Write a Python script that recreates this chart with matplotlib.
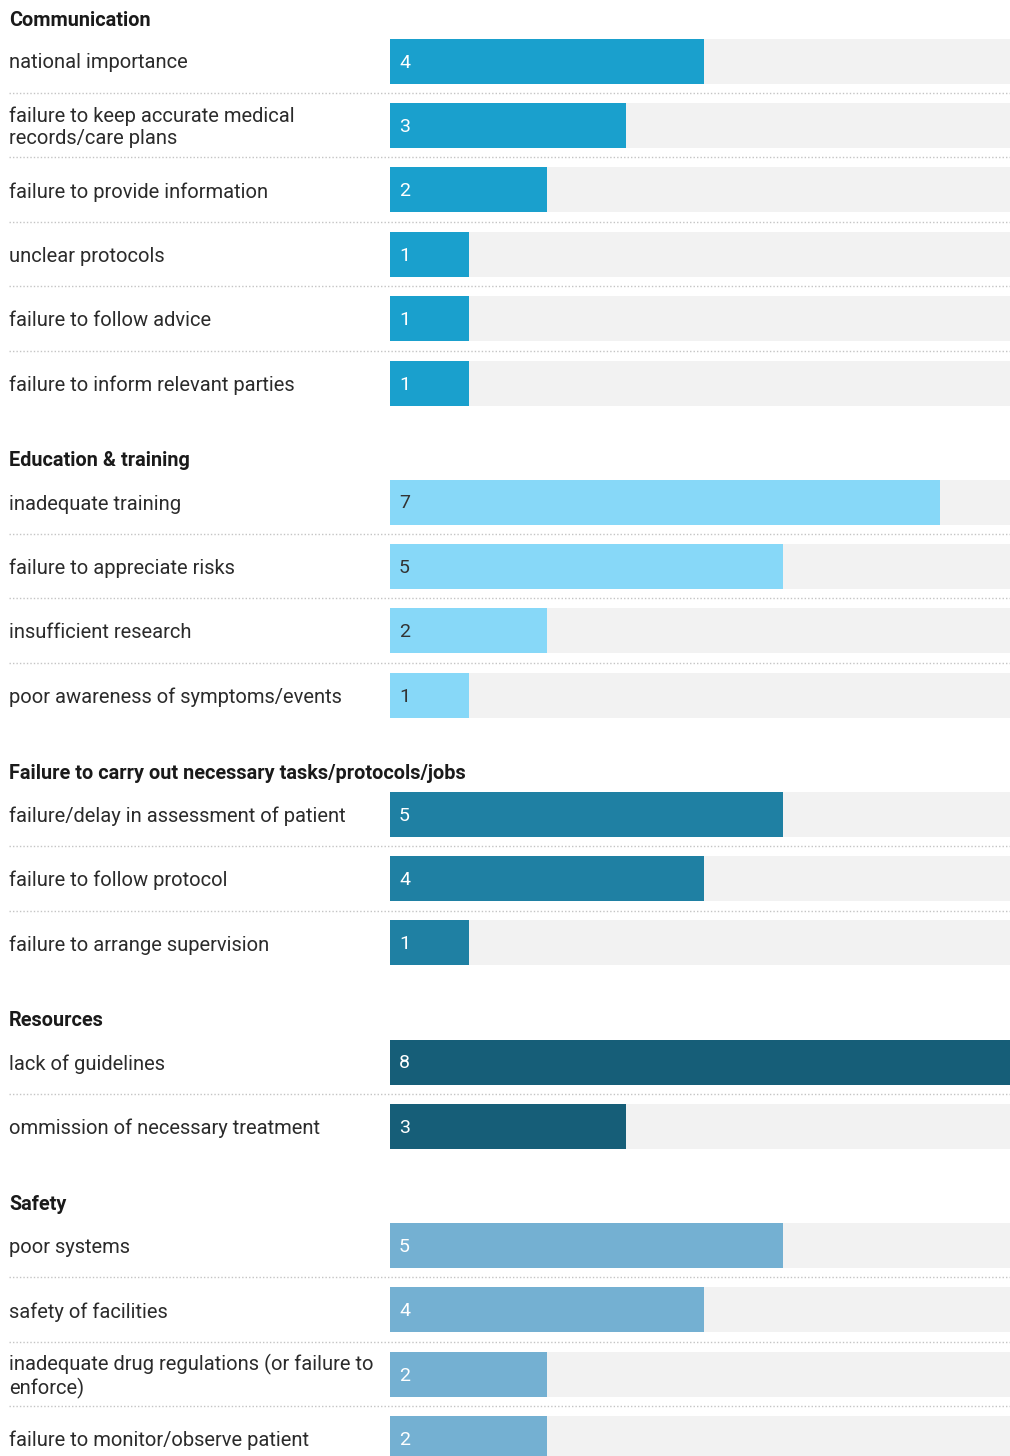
import matplotlib
matplotlib.use("Agg")
import matplotlib.pyplot as plt

groups = ["Communication", "Education & training",
          "Failure to carry out necessary tasks/protocols/jobs", "Resources", "Safety"]
labels = [
    ["national importance", "failure to keep accurate medical\nrecords/care plans",
     "failure to provide information", "unclear protocols", "failure to follow advice",
     "failure to inform relevant parties"],
    ["inadequate training", "failure to appreciate risks", "insufficient research",
     "poor awareness of symptoms/events"],
    ["failure/delay in assessment of patient", "failure to follow protocol",
     "failure to arrange supervision"],
    ["lack of guidelines", "ommission of necessary treatment"],
    ["poor systems", "safety of facilities", "inadequate drug regulations (or failure to\nenforce)",
     "failure to monitor/observe patient"],
]
values = [
    [4, 3, 2, 1, 1, 1],
    [7, 5, 2, 1],
    [5, 4, 1],
    [8, 3],
    [5, 4, 2, 2],
]
colors = ["#1aa0cd", "#87d8f8", "#1f80a3", "#165e78", "#74b0d2"]
text_colors = ["white", "#333333", "white", "white", "white"]

W, H = 1010, 1456
fig = plt.figure(figsize=(W / 100, H / 100), dpi=100)
fig.patch.set_facecolor("white")
plt.rcParams["font.family"] = ["Roboto", "DejaVu Sans"]

x0 = 390
ax = fig.add_axes([x0 / W, 0, (W - x0) / W, 1])
ax.set_xlim(0, 7.89)
ax.set_ylim(H, 0)
ax.axis("off")

unit_px = (W - x0) / 7.89
row_pitch = 64.4
bar_h = 45
header_y = 18
txt_dy = 2

for gi, (g, labs, vals) in enumerate(zip(groups, labels, values)):
    fig.text(9 / W, 1 - (header_y + txt_dy) / H, g, ha="left", va="center", fontsize=14.3,
             fontweight="bold", color="#1a1a1a")
    yc = header_y + 43
    for ri, (lab, v) in enumerate(zip(labs, vals)):
        ax.barh(yc, 7.89, height=bar_h, color="#f2f2f2", left=0, zorder=1)
        ax.barh(yc, v, height=bar_h, color=colors[gi], left=0, zorder=2)
        ax.text(9 / unit_px, yc + 1.5, str(v), ha="left", va="center", fontsize=14,
                color=text_colors[gi], zorder=3)
        fig.text(9 / W, 1 - (yc + txt_dy) / H, lab, ha="left", va="center", fontsize=14.5,
                 color="#2b2b2b", linespacing=1.2)
        if ri < len(labs) - 1:
            ys = yc + 32
            fig.add_artist(plt.Line2D([9 / W, 1], [1 - ys / H, 1 - ys / H],
                                      transform=fig.transFigure, color="#c4c4c4",
                                      linewidth=1.0, linestyle=(0, (1, 1.5))))
        last = yc
        yc += row_pitch
    header_y = last + 76

fig.savefig("out.png", dpi=100, facecolor="white")
